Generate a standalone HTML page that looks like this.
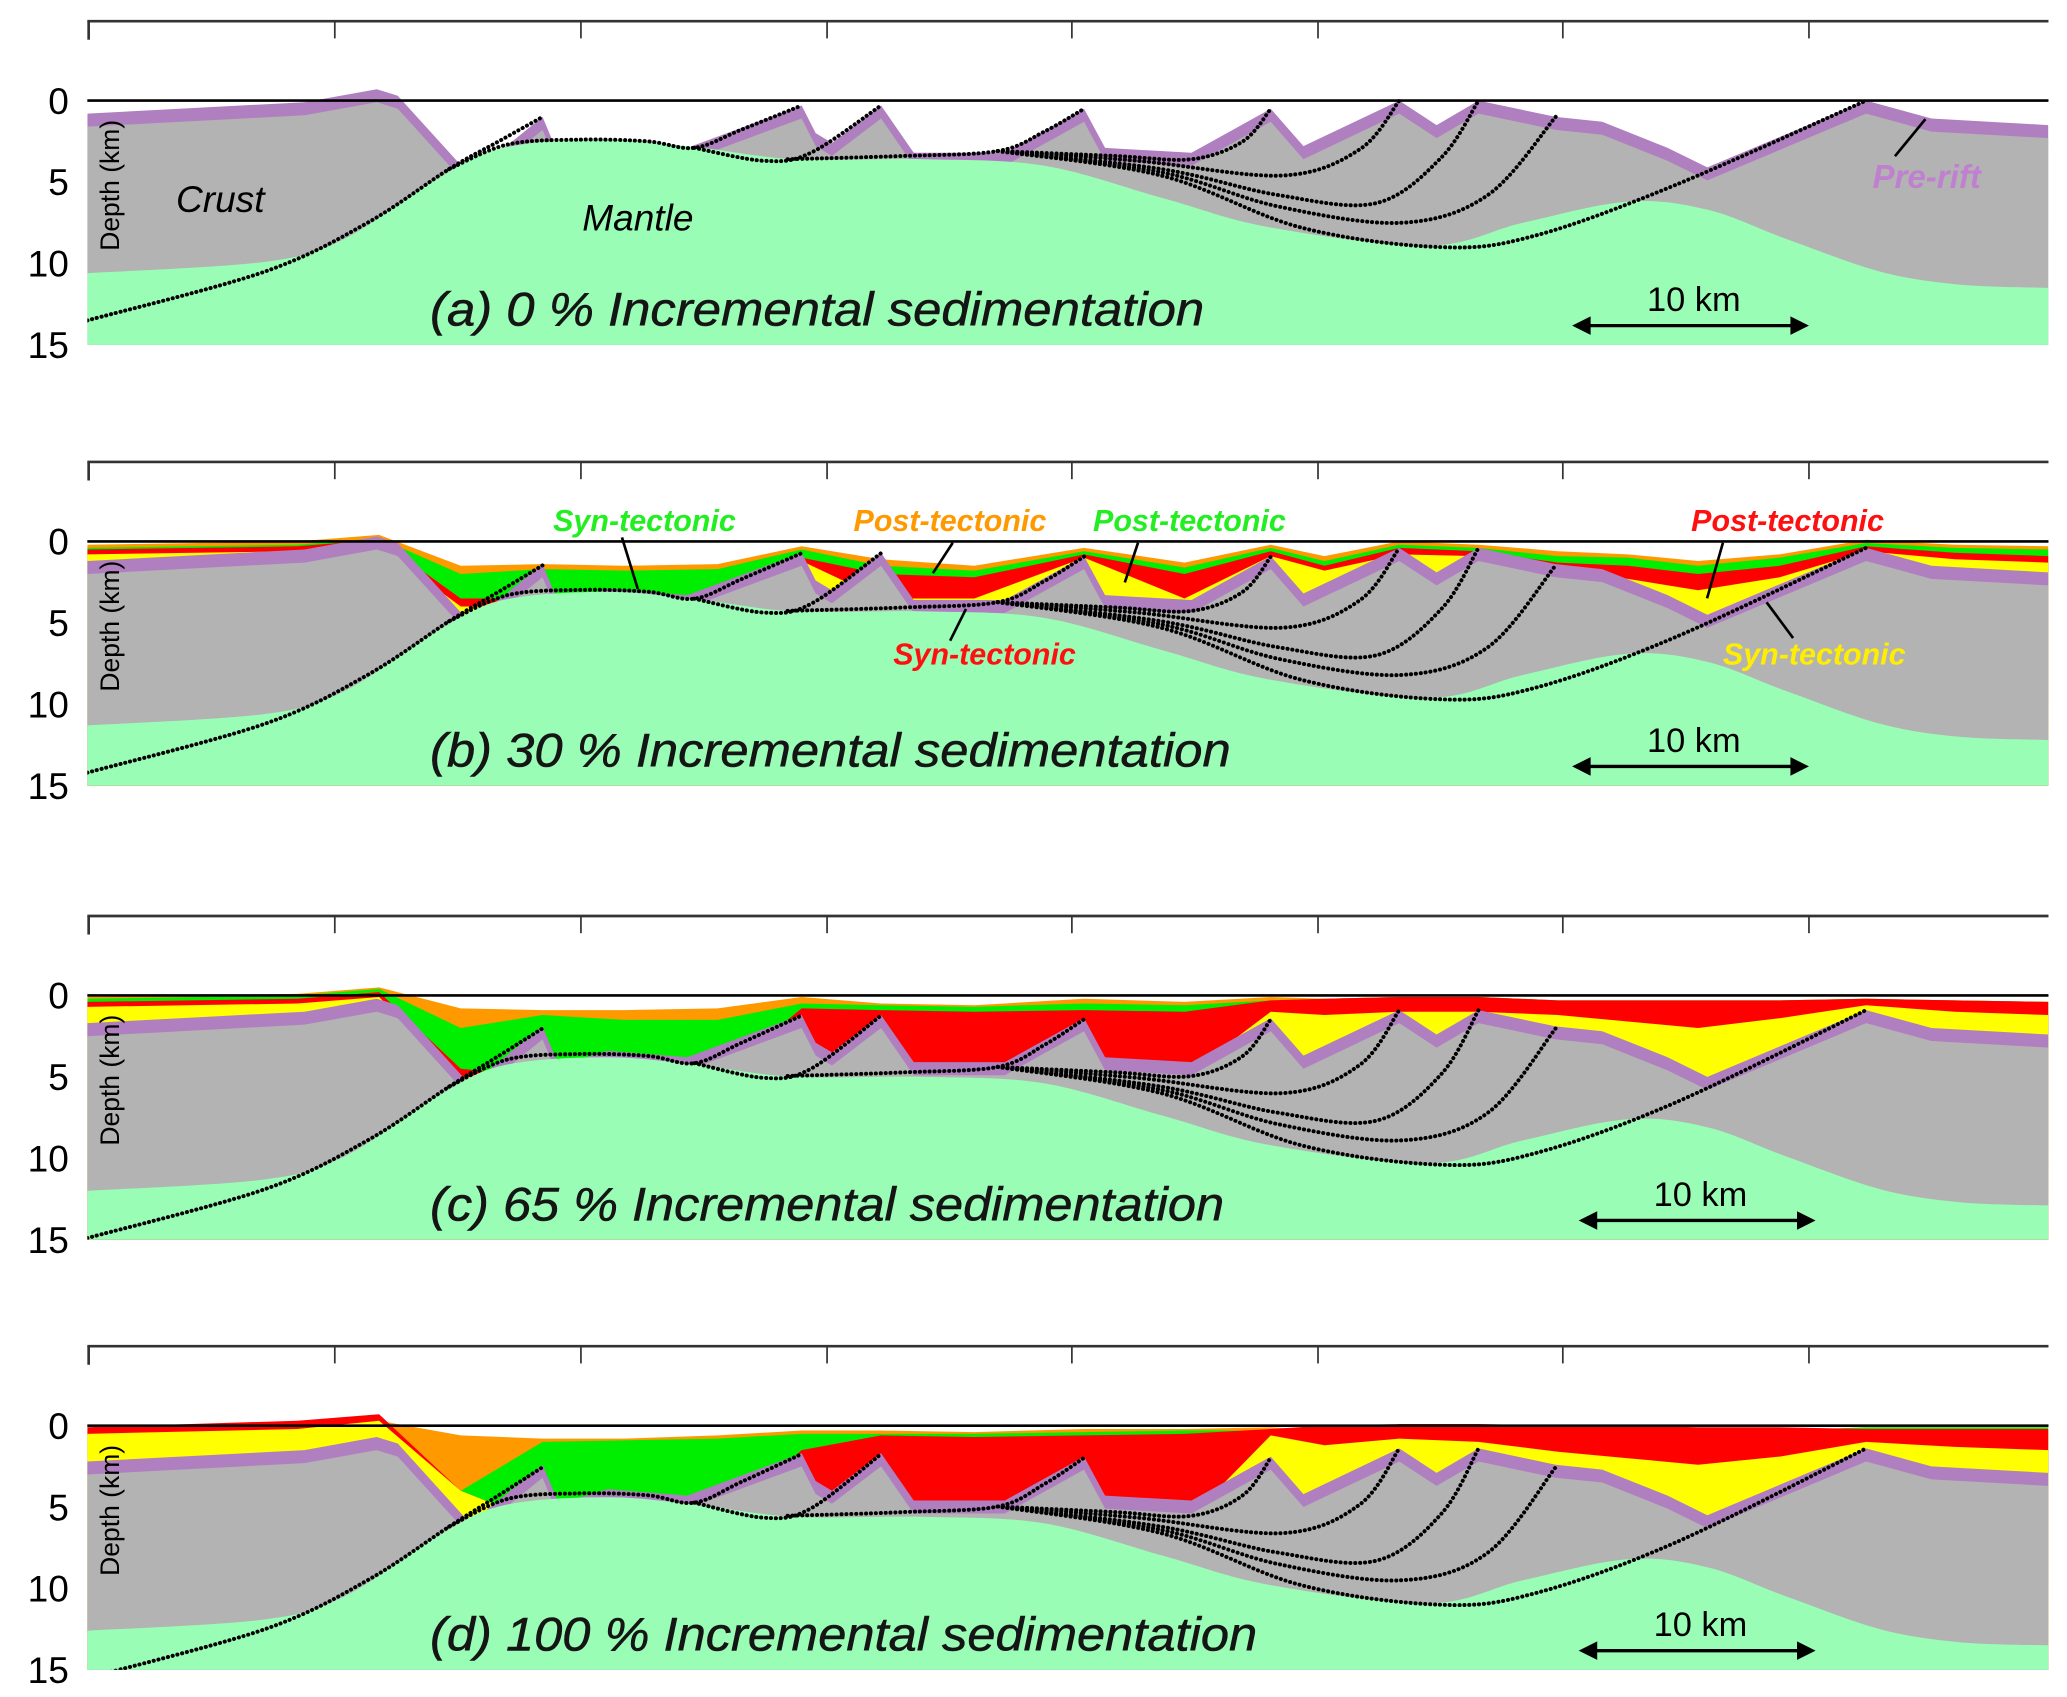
<!DOCTYPE html>
<html><head><meta charset="utf-8"><style>
html,body{margin:0;padding:0;background:#fff}
svg{display:block}
text{font-family:"Liberation Sans",sans-serif}
</style></head><body>
<svg id="fig" width="2067" height="1697" viewBox="0 0 1562 1282" preserveAspectRatio="none" xmlns="http://www.w3.org/2000/svg"></svg>
<script>
// ---- data (km along section, km depth) ----
const panelTitles = ["(a) 0 % Incremental sedimentation","(b) 30 % Incremental sedimentation","(c) 65 % Incremental sedimentation","(d) 100 % Incremental sedimentation"];
const depthTicks = [0,5,10,15];
const basementShift = [0,0.4,0.9,1.4];
const mantleShift = [0,0.7,1.4,2.0];
const surfX=[0,9.3,12.4,13.3,16.4,19.5,20.2,22.3,25.7,30.6,31.2,31.9,34.0,35.4,39.3,42.7,43.6,47.3,50.7,52.1,56.2,57.8,59.6,62.9,64.9,67.7,69.4,76.2,79.0,84];
const surfD=[0.8,0.1,-0.7,-0.3,4.6,1.0,3.4,2.5,2.9,0.3,2.0,2.6,0.3,3.2,3.2,0.5,2.9,3.2,0.5,2.8,0,1.5,0,1.0,1.3,2.9,4.1,0,1.1,1.5];
const mantX=[0,7.6,11,15,17.8,22.3,26.3,30.3,35.9,41,46.1,50.7,57.5,61.5,66,69.4,72.8,76.8,80.2,84];
const mantD=[10.6,9.9,8.5,4.8,2.9,2.4,2.9,3.6,3.6,4.0,6.0,7.8,8.9,7.5,6.2,6.7,8.5,10.5,11.3,11.5];
const faults=[
 [[0,13.5],[7.6,10.5],[12,7.5],[15.5,4.2],[17.5,2.6],[19.5,1.0]],
 [[15.5,4.2],[18,2.7],[21,2.4],[24,2.5],[26,2.9],[28,1.8],[30.6,0.3]],
 [[26,2.9],[29,3.7],[31,3.2],[34,0.3]],
 [[30,3.6],[35,3.4],[39,3.1],[41,1.9],[42.7,0.5]],
 [[39,3.1],[44,3.4],[47.3,3.6],[49.5,2.5],[50.7,0.5]],
 [[39,3.1],[45,3.7],[51.2,4.6],[54.5,3.0],[56.2,0]],
 [[39,3.1],[46,4.2],[51,5.8],[55.2,6.3],[58,3.5],[59.6,0]],
 [[39,3.1],[46,4.4],[51,6.5],[56.3,7.5],[60,5.8],[62.9,1.0]],
 [[39,3.1],[46,4.6],[52,7.8],[58,9.0],[62,8.3],[68,5.2],[76.2,0]]
];
const sedX=[0,9,12.5,16,19.5,23,27,30.6,34,38,42.7,47,50.7,53,56.2,59.6,63,66,69,72.5,76.2,80,84];
const sedB={orange:[0.2,0,-0.4,1.5,1.4,1.5,1.4,0.3,1.1,1.5,0.4,1.3,0.2,0.9,0.0,0.2,0.6,0.8,1.2,0.8,-0.1,0.2,0.3],
 green:[0.4,0.2,-0.2,2.0,1.7,1.8,1.7,0.5,1.5,1.8,0.6,1.6,0.4,1.2,0.2,0.4,0.9,1.0,1.5,1.0,0.1,0.4,0.5],
 red:[0.5,0.3,-0.1,3.5,3.5,3.5,3.5,1.0,2.0,2.2,0.8,2.0,0.6,1.5,0.4,0.6,1.3,1.5,2.0,1.5,0.3,0.7,0.9],
 yellow:[0.8,0.6,0.3,4,4,4,4,1.2,3.5,3.5,1,3.5,0.9,1.8,0.8,0.9,1.8,2.3,3.0,2.2,0.6,1.1,1.3]};
const sedC={orange:[0.1,-0.1,-0.5,0.8,0.9,0.9,0.8,0.1,0.5,0.6,0.2,0.4,0.1,0.2,0.1,0.1,0.3,0.3,0.3,0.3,0.2,0.3,0.4],
 green:[0.2,0,-0.4,2.0,1.2,1.5,1.5,0.5,0.6,0.7,0.5,0.6,0.3,0.2,0.1,0.1,0.3,0.3,0.3,0.3,0.2,0.3,0.4],
 red:[0.4,0.2,-0.2,4.5,5,5,5,0.8,0.9,1.0,0.9,1.0,0.3,0.2,0.1,0.1,0.3,0.3,0.3,0.3,0.2,0.3,0.4],
 yellow:[0.7,0.5,0.1,5,5,5,5,5,5,5,5,5,1.0,1.2,1.0,1.0,1.2,1.6,2.0,1.4,0.6,1.0,1.2]};
const sedD={orange:[0.2,0,-0.3,0.6,0.8,0.8,0.6,0.3,0.3,0.4,0.2,0.2,0.1,0.3,0.3,0.3,0.3,0.3,0.3,0.3,0.3,0.3,0.3],
 green:[0.3,0.1,-0.2,4.0,1.0,0.9,0.8,0.5,0.5,0.5,0.4,0.3,0.3,0.3,0.3,0.3,0.3,0.3,0.3,0.3,0.1,0.1,0.1],
 red:[0.1,-0.3,-0.7,4,6,6,6,1.5,0.6,0.7,0.6,0.5,0.2,0.0,-0.1,-0.1,0.0,0.0,0.1,0.1,0.2,0.2,0.2],
 yellow:[0.5,0.2,-0.3,4,6,6,6,6,6,6,6,6,0.6,1.2,0.8,1.0,1.6,2.0,2.4,1.9,1.0,1.3,1.5]};
const sediments=[null,sedB,sedC,sedD];
const zeroY=[76,409,752,1077];
const tickX=[253,439,625,810,996,1181,1367];
const scaleBarX=[1188,1188,1193,1193];

const NS="http://www.w3.org/2000/svg";
const svg=document.getElementById('fig');
const COL={grey:"#b3b3b3",mantle:"#9afdb5",purple:"#b07fc0",orange:"#ff9900",green:"#00ee00",red:"#ff0000",yellow:"#ffff00"};
function X(km){return 66+km*17.64;}
function Y(p,d){return zeroY[p]+d*12.3;}
function el(tag,attrs,parent){const e=document.createElementNS(NS,tag);for(const k in attrs)e.setAttribute(k,attrs[k]);(parent||svg).appendChild(e);return e;}
function areaPath(p,xs,ds){let s="M"+X(xs[0])+","+Y(p,15.2);for(let i=0;i<xs.length;i++)s+=" L"+X(xs[i]).toFixed(1)+","+Y(p,ds[i]).toFixed(1);s+=" L"+X(xs[xs.length-1])+","+Y(p,15.2)+"Z";return s;}
function smoothPts(pts){let s="M"+pts[0][0].toFixed(1)+","+pts[0][1].toFixed(1);
 for(let i=0;i<pts.length-1;i++){const p0=pts[Math.max(0,i-1)],p1=pts[i],p2=pts[i+1],p3=pts[Math.min(pts.length-1,i+2)];
  s+=" C"+(p1[0]+(p2[0]-p0[0])/6).toFixed(1)+","+(p1[1]+(p2[1]-p0[1])/6).toFixed(1)+" "+(p2[0]-(p3[0]-p1[0])/6).toFixed(1)+","+(p2[1]-(p3[1]-p1[1])/6).toFixed(1)+" "+p2[0].toFixed(1)+","+p2[1].toFixed(1);}
 return s;}

for(let p=0;p<4;p++){
 const g=el('g',{});
 
 
 const cp=el('clipPath',{id:'cp'+p},g);
 el('rect',{x:66,y:zeroY[p]-60,width:1482,height:60+15*12.3},cp);
 const body=el('g',{'clip-path':'url(#cp'+p+')'},g);
 const sed=sediments[p];
 if(sed){
  for(const name of ["orange","green","red","yellow"]){
   const s=el('path',{d:areaPath(p,sedX,sed[name]),fill:COL[name]},body);
   
   
  }
 }
 const bD=surfD.map(v=>v+basementShift[p]);
 const pr=el('path',{d:areaPath(p,surfX,bD),fill:COL.purple},body);
 
 
 const cr=el('path',{d:areaPath(p,surfX,bD.map(v=>v+0.8)),fill:COL.grey},body);
 
 
 const mpts=mantX.map((x,i)=>[X(x),Y(p,mantD[i]+mantleShift[p])]);
 const md=smoothPts(mpts)+" L"+X(84)+","+Y(p,15.2)+" L"+X(0)+","+Y(p,15.2)+"Z";
 const m=el('path',{d:md,fill:COL.mantle},body);
 
 
 faults.forEach((f,i)=>{
  const pts=f.map(([x,d])=>{const c=Math.max(0,Math.min(1,d/4));return [X(x),Y(p,d+mantleShift[p]*c+basementShift[p]*(1-c))];});
  const fl=el('path',{d:smoothPts(pts),fill:'none',stroke:'#000','stroke-width':3,'stroke-dasharray':'0.1 3.6','stroke-linecap':'round'},body);
  
  
 });
 const top=zeroY[p]-60;
 const ax=el('line',{x1:66,y1:top,x2:1548,y2:top,stroke:'#333','stroke-width':2},g);
 
 
 el('line',{x1:67,y1:top,x2:67,y2:top+14,stroke:'#333','stroke-width':2},g);
 tickX.forEach(tx=>{const t=el('line',{x1:tx,y1:top,x2:tx,y2:top+13,stroke:'#333','stroke-width':1.3},g);
  
  });
 const zl=el('line',{x1:66,y1:zeroY[p],x2:1548,y2:zeroY[p],stroke:'#000','stroke-width':2},g);
 
 
 depthTicks.forEach(d=>{const t=el('text',{x:52,y:Y(p,d)+10,'font-size':28,'text-anchor':'end',fill:'#000'},g);t.textContent=d;
  
  });
 const yl=el('text',{x:0,y:0,'font-size':20,'text-anchor':'middle',fill:'#000',transform:'translate(90,'+(zeroY[p]+64)+') rotate(-90)'},g);
 yl.textContent='Depth (km)';
 
 
 const tl=el('text',{x:325,y:zeroY[p]+170,'font-size':36,'font-style':'italic',fill:'#151515',textLength:[585,605,600,625][p],lengthAdjust:'spacingAndGlyphs',stroke:'#151515','stroke-width':0.4},g);
 tl.textContent=panelTitles[p];
 
 
 const sx=scaleBarX[p], sy=zeroY[p]+170;
 const sb=el('g',{},g);
 
 
 el('line',{x1:sx+8,y1:sy,x2:sx+171,y2:sy,stroke:'#000','stroke-width':2.5},sb);
 el('polygon',{points:(sx)+","+sy+" "+(sx+14)+","+(sy-7)+" "+(sx+14)+","+(sy+7),fill:'#000'},sb);
 el('polygon',{points:(sx+179)+","+sy+" "+(sx+165)+","+(sy-7)+" "+(sx+165)+","+(sy+7),fill:'#000'},sb);
 const st=el('text',{x:sx+92,y:sy-11,'font-size':26,'text-anchor':'middle',fill:'#000'},sb);st.textContent='10 km';
}
function label(txt,x,y,col,name,size){const t=el('text',{x:x,y:y,'font-size':size||27,'font-style':'italic',fill:col,'font-weight':col==='#000'?'normal':'bold'});t.textContent=txt;
 
 return t;}
function lead(x1,y1,x2,y2){el('line',{x1:x1,y1:y1,x2:x2,y2:y2,stroke:'#000','stroke-width':2});}
label('Crust',133,160,'#000','crust-label',28);
label('Mantle',440,174,'#000','mantle-label',28);
label('Pre-rift',1415,142,'#c080d0','pre-rift-label',25);
lead(1432,118,1455,90);
label('Syn-tectonic',418,401,'#22ee22','syn-tectonic-green-label',23); lead(470,406,482,445);
label('Post-tectonic',645,401,'#ff9900','post-tectonic-orange-label',23); lead(720,410,705,433);
label('Post-tectonic',826,401,'#22ee22','post-tectonic-green-label',23); lead(860,410,850,440);
label('Syn-tectonic',675,502,'#ff1010','syn-tectonic-red-label',23); lead(718,484,730,460);
label('Post-tectonic',1278,401,'#ff1010','post-tectonic-red-label',23); lead(1302,410,1290,452);
label('Syn-tectonic',1302,502,'#ffee00','syn-tectonic-yellow-label',23); lead(1355,482,1335,455);
</script>
</body></html>
